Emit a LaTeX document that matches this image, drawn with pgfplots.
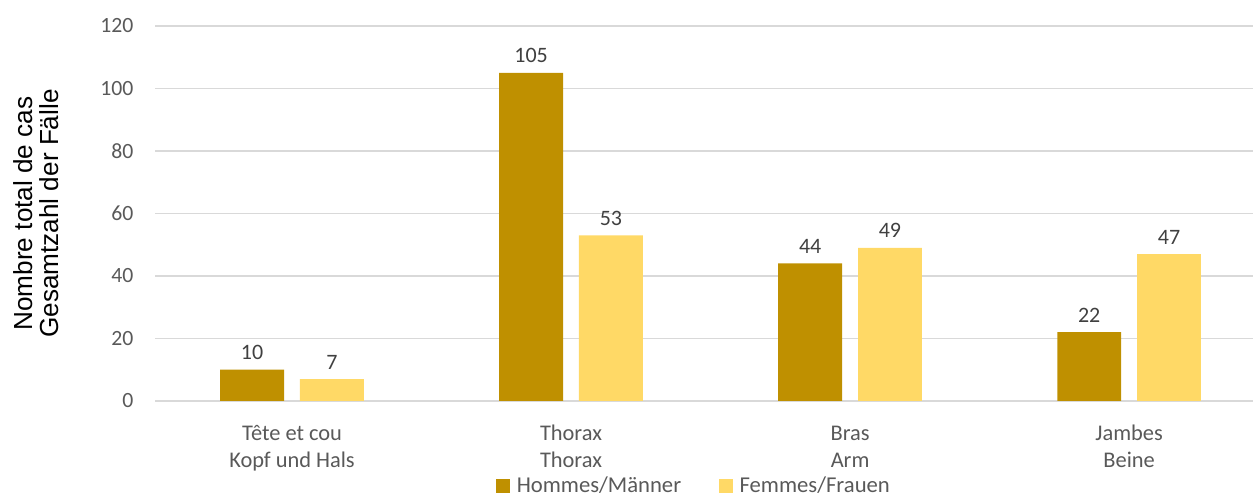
\documentclass[border=0pt]{standalone}
\usepackage{pgfplots}
\pgfplotsset{compat=1.18}
\usepackage{fontspec}
\setmainfont{Carlito}
\newfontfamily\arialf{Liberation Sans}
\definecolor{men}{HTML}{BF9000}
\definecolor{women}{HTML}{FFD966}
\definecolor{gridc}{HTML}{D9D9D9}
\definecolor{txt}{HTML}{595959}
\definecolor{lbl}{HTML}{404040}
\begin{document}
\begin{tikzpicture}
\path[use as bounding box] (0,0) rectangle (939.75pt,372pt);
\begin{axis}[
  at={(116.25pt,71.25pt)}, anchor=south west,
  scale only axis, width=823.5pt, height=281.25pt,
  xmin=-0.491, xmax=3.444, ymin=0, ymax=120,
  ytick={0,20,...,120},
  xtick={0,1,2,3},
  xticklabels={{Tête et cou\\Kopf und Hals},{Thorax\\Thorax},{Bras\\Arm},{Jambes\\Beine}},
  axis line style={draw=none},
  major tick length=0pt,
  ymajorgrids, grid style={gridc, line width=1pt},
  tick label style={text=txt, inner sep=0pt},
  yticklabel style={font=\fontsize{16.3}{20}\selectfont, anchor=east, xshift=-16pt},
  xticklabel style={font=\fontsize{16.8}{21}\selectfont, anchor=base, align=center, yshift=-50.25pt},
  /pgf/number format/assume math mode=true,
  ylabel={Nombre total de cas\\Gesamtzahl der Fälle},
  ylabel style={at={(axis description cs:-0.108,0.5)}, anchor=center, align=center, font=\arialf\fontsize{19.6}{19.8}\selectfont, text=black},
  ybar, bar width=0.229,
  nodes near coords,
  every node near coord/.append style={font=\fontsize{16.5}{19}\selectfont, text=lbl, yshift=4pt},
  legend columns=2,
  legend style={at={(axis description cs:0.491,-0.226)}, anchor=center, draw=none, fill=none, font=\fontsize{17}{19}\selectfont, text=txt, inner sep=0pt,
    /tikz/every odd column/.append style={column sep=3pt},
    /tikz/every even column/.append style={column sep=26pt}},
  legend image code/.code={\fill[#1] (0pt,-5.25pt) rectangle (10.8pt,5.25pt);},
]
\addplot[fill=men, draw=none, bar shift=-0.143] coordinates {(0,10) (1,105) (2,44) (3,22)};
\addplot[fill=women, draw=none, bar shift=0.143] coordinates {(0,7) (1,53) (2,49) (3,47)};
\legend{Hommes/Männer, Femmes/Frauen}
\end{axis}
\end{tikzpicture}
\end{document}
